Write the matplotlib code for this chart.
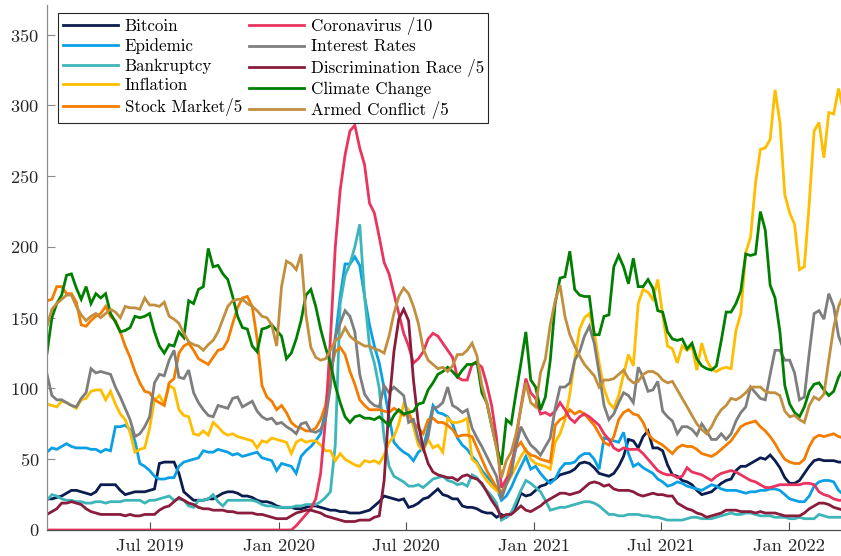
import numpy as np
import pandas as pd
import matplotlib
matplotlib.use('Agg')
import matplotlib.pyplot as plt
import matplotlib.dates as mdates

plt.rcParams['font.family'] = ['cmr10', 'DejaVu Serif']
plt.rcParams['axes.formatter.use_mathtext'] = True

# weekly observations
dates = pd.date_range('2019-02-03', periods=164, freq='7D')

bitcoin = [22, 22, 23, 24, 26, 28, 28, 27, 26, 25,
           27, 32, 32, 32, 32, 28, 25, 26, 27, 27,
           27, 28, 29, 47, 48, 48, 48, 40, 27, 24,
           21, 21, 21, 22, 22, 24, 26, 27, 27, 26,
           24, 24, 23, 21, 20, 20, 19, 17, 16, 16,
           16, 15, 15, 16, 17, 17, 16, 15, 14, 14,
           13, 13, 12, 12, 12, 13, 14, 17, 20, 24,
           23, 22, 21, 22, 16, 17, 19, 22, 23, 26,
           29, 25, 24, 22, 22, 17, 16, 16, 15, 13,
           12, 12, 9, 11, 9, 12, 17, 26, 24, 25,
           28, 31, 32, 35, 36, 39, 40, 41, 43, 47,
           48, 47, 44, 40, 39, 38, 40, 45, 52, 64,
           63, 58, 66, 70, 58, 58, 56, 46, 39, 38,
           35, 34, 32, 28, 25, 26, 27, 30, 33, 35,
           36, 42, 45, 45, 47, 49, 51, 50, 53, 49,
           44, 37, 33, 33, 35, 40, 45, 49, 50, 49,
           49, 49, 48, 48]

epidemic = [55, 58, 57, 59, 61, 59, 58, 58, 58, 57,
            57, 55, 57, 56, 73, 73, 74, 71, 63, 47,
            45, 42, 38, 36, 36, 37, 37, 45, 48, 49,
            50, 51, 56, 55, 55, 57, 56, 55, 53, 54,
            52, 53, 54, 55, 51, 50, 49, 42, 47, 46,
            45, 40, 52, 56, 59, 63, 68, 85, 105, 135,
            165, 188, 188, 193, 187, 165, 145, 130, 118, 100,
            80, 62, 58, 55, 53, 49, 55, 58, 72, 88,
            83, 82, 80, 75, 65, 60, 57, 52, 48, 42,
            38, 34, 30, 21, 24, 30, 38, 45, 52, 43,
            45, 40, 36, 33, 36, 43, 47, 47, 48, 52,
            54, 54, 50, 43, 65, 64, 63, 62, 69, 54,
            45, 47, 44, 42, 40, 36, 34, 31, 32, 34,
            33, 31, 30, 29, 28, 30, 32, 31, 29, 28,
            28, 28, 27, 26, 27, 27, 28, 28, 29, 29,
            28, 25, 22, 21, 20, 20, 24, 31, 34, 35,
            35, 34, 28, 25]

bankruptcy = [21, 25, 24, 22, 21, 21, 20, 20, 19, 19,
              20, 20, 19, 20, 20, 20, 21, 21, 21, 21,
              19, 21, 21, 22, 23, 24, 21, 22, 21, 17,
              16, 21, 21, 22, 25, 20, 17, 21, 21, 21,
              21, 21, 21, 20, 18, 17, 17, 16, 16, 16,
              16, 17, 17, 18, 18, 18, 20, 23, 27, 60,
              160, 180, 188, 200, 216, 165, 130, 118, 100, 65,
              45, 38, 36, 34, 31, 31, 32, 30, 33, 36,
              37, 38, 35, 34, 32, 33, 31, 39, 37, 32,
              28, 24, 19, 7, 9, 12, 20, 28, 35, 33,
              30, 27, 21, 14, 15, 16, 16, 17, 18, 19,
              20, 20, 19, 17, 14, 11, 11, 10, 10, 11,
              11, 11, 10, 10, 9, 9, 8, 7, 7, 7,
              7, 8, 9, 9, 8, 8, 8, 9, 10, 11,
              12, 11, 11, 12, 12, 11, 10, 10, 10, 9,
              9, 9, 8, 8, 9, 8, 8, 8, 11, 10,
              9, 9, 9, 9]

inflation = [89, 88, 87, 91, 90, 88, 86, 92, 93, 98,
             99, 99, 92, 98, 89, 82, 78, 69, 55, 57,
             58, 72, 92, 95, 89, 102, 100, 85, 81, 80,
             68, 67, 70, 67, 76, 73, 69, 67, 68, 66,
             65, 64, 63, 58, 63, 62, 65, 64, 63, 62,
             54, 62, 64, 62, 63, 63, 60, 56, 56, 49,
             54, 50, 48, 46, 45, 49, 48, 49, 47, 53,
             62, 66, 75, 89, 85, 73, 60, 56, 64, 58,
             60, 55, 79, 76, 76, 77, 79, 50, 47, 40,
             35, 31, 28, 25, 32, 38, 45, 52, 57, 50,
             47, 46, 45, 43, 62, 68, 78, 96, 120, 142,
             150, 153, 140, 118, 100, 90, 86, 95, 110, 124,
             116, 160, 170, 168, 163, 177, 152, 130, 128, 118,
             130, 127, 130, 113, 132, 120, 114, 112, 114, 115,
             114, 141, 153, 196, 207, 245, 269, 270, 276, 311,
             288, 237, 224, 216, 184, 186, 231, 282, 288, 263,
             295, 294, 312, 296]

stock_market = [162, 163, 172, 172, 167, 167, 161, 145, 144, 148,
                151, 153, 158, 151, 148, 140, 130, 122, 112, 104,
                98, 97, 92, 90, 88, 104, 107, 125, 130, 132,
                127, 121, 119, 117, 122, 127, 128, 134, 146, 157,
                164, 165, 158, 135, 102, 94, 91, 85, 88, 83,
                76, 73, 72, 70, 70, 72, 78, 88, 112, 126,
                129, 124, 112, 103, 92, 88, 85, 85, 85, 84,
                83, 86, 84, 81, 82, 76, 72, 68, 78, 79,
                76, 76, 74, 71, 66, 67, 67, 66, 58, 50,
                42, 36, 30, 26, 35, 48, 58, 62, 56, 53,
                52, 50, 49, 48, 74, 78, 80, 85, 82, 84,
                82, 78, 74, 68, 62, 60, 66, 78, 83, 85,
                82, 81, 76, 68, 64, 62, 60, 57, 54, 58,
                60, 59, 59, 57, 54, 53, 52, 54, 57, 60,
                63, 68, 73, 75, 76, 77, 73, 70, 66, 61,
                55, 50, 48, 47, 47, 50, 59, 65, 67, 66,
                67, 68, 66, 65]

coronavirus = [0, 0, 0, 0, 0, 0, 0, 0, 0, 0,
               0, 0, 0, 0, 0, 0, 0, 0, 0, 0,
               0, 0, 0, 0, 0, 0, 0, 0, 0, 0,
               0, 0, 0, 0, 0, 0, 0, 0, 0, 0,
               0, 0, 0, 0, 0, 0, 0, 0, 0, 0,
               0, 3, 7, 11, 15, 22, 40, 78, 135, 200,
               240, 265, 282, 286, 270, 258, 231, 224, 207, 189,
               181, 167, 153, 139, 130, 118, 121, 126, 135, 139,
               137, 132, 127, 122, 108, 106, 106, 117, 118, 115,
               103, 88, 65, 30, 36, 40, 65, 87, 107, 97,
               93, 82, 83, 81, 84, 90, 85, 79, 76, 80,
               82, 80, 77, 74, 68, 64, 58, 56, 58, 57,
               57, 57, 54, 50, 46, 42, 40, 39, 39, 37,
               38, 44, 41, 40, 39, 37, 35, 38, 40, 41,
               42, 41, 39, 37, 35, 34, 32, 30, 30, 31,
               32, 32, 32, 32, 32, 33, 33, 32, 27, 25,
               24, 22, 21, 21]

interest_rates = [110, 95, 92, 92, 90, 88, 87, 93, 97, 114,
                  111, 112, 111, 110, 101, 94, 86, 78, 66, 68,
                  73, 80, 104, 110, 109, 120, 127, 108, 107, 113,
                  97, 90, 85, 81, 80, 88, 87, 86, 93, 94,
                  87, 89, 91, 84, 80, 78, 79, 75, 76, 73,
                  71, 68, 75, 76, 70, 69, 71, 78, 101, 137,
                  146, 155, 151, 140, 110, 96, 91, 88, 87, 102,
                  97, 101, 98, 95, 76, 78, 64, 57, 66, 86,
                  87, 90, 101, 88, 86, 83, 85, 72, 65, 59,
                  52, 45, 38, 22, 32, 40, 59, 73, 66, 60,
                  57, 53, 59, 65, 86, 101, 101, 104, 120, 126,
                  137, 144, 132, 111, 88, 78, 82, 90, 97, 95,
                  90, 115, 108, 98, 99, 105, 84, 80, 77, 68,
                  73, 73, 71, 67, 75, 70, 64, 64, 68, 64,
                  68, 77, 83, 87, 101, 97, 93, 92, 110, 127,
                  127, 120, 120, 111, 92, 94, 125, 153, 155, 149,
                  167, 158, 137, 128]

discrimination = [11, 13, 15, 19, 19, 20, 19, 18, 15, 13,
                  12, 11, 11, 11, 11, 11, 10, 11, 10, 10,
                  11, 11, 11, 14, 16, 17, 20, 23, 21, 19,
                  18, 16, 15, 15, 14, 14, 14, 13, 13, 12,
                  12, 12, 12, 11, 11, 10, 9, 8, 8, 8,
                  10, 12, 13, 14, 14, 13, 12, 10, 9, 8,
                  7, 6, 6, 6, 7, 7, 7, 9, 10, 35,
                  88, 126, 149, 156, 148, 106, 75, 58, 47, 41,
                  39, 38, 37, 37, 35, 38, 39, 37, 36, 33,
                  27, 21, 16, 9, 11, 11, 14, 17, 14, 13,
                  15, 17, 20, 22, 24, 26, 26, 25, 26, 27,
                  30, 33, 34, 33, 31, 32, 29, 28, 28, 28,
                  27, 25, 24, 25, 26, 25, 25, 24, 24, 19,
                  17, 15, 14, 12, 11, 9, 10, 11, 12, 14,
                  14, 14, 13, 13, 13, 12, 13, 12, 12, 12,
                  11, 10, 10, 10, 10, 12, 15, 17, 19, 19,
                  18, 16, 15, 14]

climate_change = [125, 150, 160, 166, 180, 181, 171, 163, 172, 160,
                  167, 164, 167, 153, 147, 140, 141, 143, 151, 150,
                  151, 153, 140, 130, 125, 131, 130, 140, 136, 162,
                  160, 170, 172, 199, 186, 187, 181, 177, 165, 151,
                  143, 142, 130, 126, 142, 143, 145, 141, 137, 121,
                  125, 135, 148, 166, 170, 158, 142, 129, 118, 102,
                  90, 80, 76, 80, 81, 79, 79, 78, 80, 77,
                  74, 81, 85, 82, 83, 84, 89, 90, 99, 104,
                  110, 112, 115, 112, 108, 113, 117, 117, 119, 97,
                  90, 74, 59, 46, 78, 75, 97, 118, 140, 106,
                  101, 85, 94, 120, 160, 178, 179, 197, 170, 166,
                  165, 165, 138, 138, 151, 152, 186, 194, 186, 174,
                  192, 172, 172, 177, 171, 155, 154, 140, 135, 134,
                  135, 128, 132, 121, 116, 114, 113, 116, 134, 154,
                  154, 160, 169, 195, 194, 195, 225, 212, 173, 164,
                  140, 102, 89, 83, 80, 87, 98, 103, 104, 99,
                  95, 98, 108, 114]

armed_conflict = [144, 156, 160, 163, 166, 166, 158, 152, 148, 151,
                  153, 150, 153, 156, 154, 150, 158, 157, 157, 156,
                  164, 159, 159, 158, 161, 151, 149, 146, 139, 133,
                  131, 130, 127, 131, 134, 140, 149, 158, 162, 163,
                  163, 160, 158, 155, 151, 150, 145, 130, 172, 190,
                  188, 184, 195, 152, 129, 122, 120, 121, 127, 134,
                  136, 143, 137, 134, 132, 130, 130, 128, 127, 125,
                  137, 153, 165, 171, 167, 158, 146, 128, 120, 117,
                  114, 115, 112, 116, 124, 124, 127, 132, 123, 102,
                  90, 74, 58, 37, 49, 55, 68, 86, 104, 90,
                  87, 111, 121, 145, 162, 173, 151, 138, 130, 123,
                  117, 113, 109, 101, 106, 106, 107, 110, 113, 107,
                  104, 105, 110, 112, 112, 110, 106, 104, 105, 99,
                  93, 87, 81, 75, 71, 68, 73, 80, 85, 88,
                  93, 92, 94, 97, 101, 101, 101, 98, 97, 97,
                  95, 84, 80, 81, 78, 76, 88, 94, 92, 96,
                  120, 143, 158, 166]

labels = ['Bitcoin', 'Epidemic', 'Bankruptcy', 'Inflation', 'Stock Market/5',
          'Coronavirus /10', 'Interest Rates', 'Discrimination Race /5',
          'Climate Change', 'Armed Conflict /5']
values = [bitcoin, epidemic, bankruptcy, inflation, stock_market,
          coronavirus, interest_rates, discrimination, climate_change, armed_conflict]
colors = ['#0b1d4f', '#0aa0e6', '#3db5b9', '#ffbd00', '#f47d00',
          '#e8345e', '#7e7e7e', '#8a1c3c', '#007f00', '#c18f3e']

W, H = 841, 556
fig = plt.figure(figsize=(W / 100, H / 100), dpi=100)
ax = fig.add_axes([47 / W, 26 / H, (W - 47) / W, (530 - 5) / H])

for lab, vals, col in zip(labels, values, colors):
    ax.plot(dates, vals, color=col, lw=2.0, label=lab, solid_joinstyle='miter')

ax.set_xlim(pd.Timestamp('2019-02-03'), pd.Timestamp('2022-03-16 12:00'))
ax.set_ylim(0, 371)
ax.set_yticks(np.arange(0, 351, 50))
ax.xaxis.set_major_locator(mdates.MonthLocator(bymonth=[1, 7]))
ax.xaxis.set_major_formatter(mdates.DateFormatter('%b %Y'))

for s in ['top', 'right']:
    ax.spines[s].set_visible(False)
ax.spines['left'].set_color('#8c8c8c')
ax.spines['bottom'].set_color('#4d4d4d')
ax.spines['left'].set_linewidth(0.9)
ax.spines['bottom'].set_linewidth(0.9)
ax.tick_params(axis='both', direction='in', length=5.8, width=0.8,
               labelsize=13.3, labelcolor='#262626')
ax.tick_params(axis='y', color='#8c8c8c', pad=5.5)
ax.tick_params(axis='x', color='#4d4d4d', pad=6)

leg = ax.legend(ncol=2, loc='upper left', bbox_to_anchor=(58.3 / W, 1 - 12.5 / H),
                bbox_transform=fig.transFigure, fontsize=12.2, frameon=True,
                fancybox=False, edgecolor='#262626', framealpha=1,
                handlelength=3.3, handletextpad=0.36, columnspacing=0.4,
                labelspacing=0.26, borderpad=0.25, borderaxespad=0)
leg.get_frame().set_linewidth(0.8)
for line in leg.get_lines():
    line.set_linewidth(2.0)

fig.savefig('out.png', dpi=100)
